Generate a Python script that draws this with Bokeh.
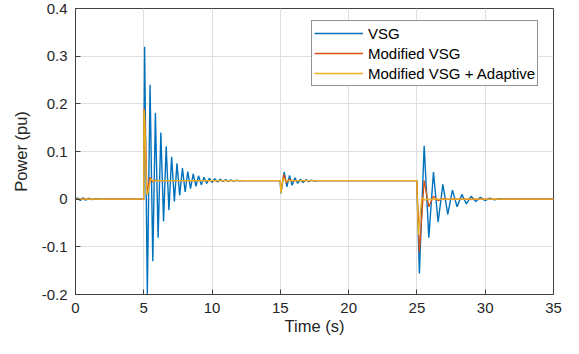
from bokeh.plotting import figure
from bokeh.models import FixedTicker, Legend, LegendItem
from bokeh.embed import file_html
from bokeh.resources import INLINE

# ---- data ----
vsg_t = [0.0, 0.15, 0.35, 0.55, 0.75, 0.95, 1.2, 1.5, 2.0, 4.99,
         5.06, 5.26, 5.46, 5.66, 5.85, 6.05, 6.25, 6.45, 6.64, 6.84,
         7.04, 7.24, 7.43, 7.63, 7.83, 8.03, 8.22, 8.42, 8.62, 8.82,
         9.01, 9.21, 9.41, 9.61, 9.80, 10.00, 10.20, 10.40, 10.59, 10.79,
         10.99, 11.19, 11.38, 11.58, 11.80, 12.00, 12.30,
         14.99, 15.04, 15.28, 15.48, 15.67, 15.86, 16.07, 16.27, 16.47, 16.67,
         16.87, 17.07, 17.27, 17.50, 17.80,
         24.99, 25.18, 25.53, 25.87, 26.21, 26.55, 26.90, 27.26, 27.60, 27.94,
         28.29, 28.62, 28.97, 29.31, 29.65, 29.99, 30.33, 30.67, 31.00, 31.40, 35.0]
vsg_p = [0.0, 0.003, -0.003, 0.003, -0.002, 0.002, -0.001, 0.001, 0.0, 0.0,
         0.320, -0.199, 0.240, -0.130, 0.181, -0.081, 0.140, -0.047, 0.111, -0.023,
         0.089, -0.005, 0.075, 0.008, 0.065, 0.015, 0.058, 0.022, 0.053, 0.027,
         0.049, 0.030, 0.046, 0.033, 0.044, 0.035, 0.043, 0.036, 0.042, 0.037,
         0.041, 0.0375, 0.0405, 0.038, 0.040, 0.0385, 0.039,
         0.039, 0.012, 0.057, 0.026, 0.050, 0.029, 0.045, 0.033, 0.042, 0.035,
         0.041, 0.037, 0.040, 0.038, 0.039,
         0.039, -0.156, 0.112, -0.081, 0.057, -0.048, 0.031, -0.032, 0.019, -0.016,
         0.010, -0.010, 0.006, -0.005, 0.004, -0.003, 0.002, -0.0015, 0.001, 0.0, 0.0]

mod_t = [0.0, 4.99, 5.03, 5.10, 5.24, 5.45, 5.65, 5.85, 6.05,
         14.99, 15.04, 15.24, 15.45, 15.65, 15.85, 16.10,
         24.99, 25.18, 25.53, 25.87, 26.21, 26.55, 26.90, 27.20, 35.0]
mod_p = [0.0, 0.0, 0.190, 0.150, 0.012, 0.046, 0.036, 0.040, 0.039,
         0.039, 0.014, 0.052, 0.034, 0.042, 0.038, 0.039,
         0.039, -0.112, 0.039, -0.016, 0.006, -0.003, 0.001, 0.0, 0.0]

adp_t = [0.0, 4.99, 5.02, 5.06, 5.22, 5.30, 5.50, 5.70, 5.90,
         14.99, 15.04, 15.20, 15.40, 15.60,
         24.99, 25.10, 25.35, 25.60, 25.80, 35.0]
adp_p = [0.0, 0.0, 0.188, 0.170, 0.010, 0.012, 0.043, 0.038, 0.039,
         0.039, 0.013, 0.044, 0.038, 0.039,
         0.039, -0.075, 0.003, -0.002, 0.0, 0.0]

series_names = ["VSG", "Modified VSG", "Modified VSG + Adaptive"]
series_colors = ["#0072BD", "#D95319", "#EDB120"]

x_ticks = [0, 5, 10, 15, 20, 25, 30, 35]
x_tick_labels = ["0", "5", "10", "15", "20", "25", "30", "35"]
y_ticks = [-0.2, -0.1, 0.0, 0.1, 0.2, 0.3, 0.4]
y_tick_labels = ["-0.2", "-0.1", "0", "0.1", "0.2", "0.3", "0.4"]

FONT = "Liberation Sans"
TXT = "#262626"
AX = "#404040"

p = figure(width=563, height=338, x_range=(0, 35), y_range=(-0.2, 0.4),
           output_backend="svg", toolbar_location=None,
           min_border_left=75, min_border_right=10, min_border_top=8,
           min_border_bottom=44)
p.background_fill_color = "white"
p.border_fill_color = "white"
p.outline_line_color = AX
p.outline_line_width = 1

r1 = p.line(vsg_t, vsg_p, line_color=series_colors[0], line_width=1.4)
r2 = p.line(mod_t, mod_p, line_color=series_colors[1], line_width=1.3)
r3 = p.line(adp_t, adp_p, line_color=series_colors[2], line_width=1.3)

xa = p.xaxis[0]
ya = p.yaxis[0]
xa.ticker = FixedTicker(ticks=x_ticks)
ya.ticker = FixedTicker(ticks=y_ticks)
xa.major_label_overrides = dict(zip(x_ticks, x_tick_labels))
ya.major_label_overrides = dict(zip(y_ticks, y_tick_labels))
xa.axis_label = "Time (s)"
ya.axis_label = "Power (pu)"
for ax in (xa, ya):
    ax.major_tick_in = 5
    ax.major_tick_out = 0
    ax.minor_tick_line_color = None
    ax.axis_line_color = AX
    ax.major_tick_line_color = AX
    ax.major_label_text_font = FONT
    ax.major_label_text_font_size = "15px"
    ax.major_label_text_color = TXT
    ax.axis_label_text_font = FONT
    ax.axis_label_text_font_size = "16.5px"
    ax.axis_label_text_font_style = "normal"
    ax.axis_label_text_color = TXT
xa.major_label_standoff = 8
xa.axis_label_standoff = 1
ya.major_label_standoff = 8
ya.axis_label_standoff = 9

p.xgrid.ticker = FixedTicker(ticks=x_ticks)
p.ygrid.ticker = FixedTicker(ticks=y_ticks)
p.grid.grid_line_color = "#dfdfdf"
p.grid.grid_line_width = 1

legend = Legend(items=[LegendItem(label=series_names[0], renderers=[r1]),
                       LegendItem(label=series_names[1], renderers=[r2]),
                       LegendItem(label=series_names[2], renderers=[r3])],
                location=(236, 208))
legend.label_text_font = FONT
legend.label_text_font_size = "15px"
legend.label_text_color = "black"
legend.border_line_color = "#262626"
legend.border_line_width = 1
legend.background_fill_alpha = 1.0
legend.padding = 2
legend.margin = 0
legend.spacing = 0
legend.glyph_width = 49
legend.glyph_height = 20
legend.label_height = 20
legend.label_standoff = 5
p.add_layout(legend, "center")

open("out.html", "w").write(file_html(p, INLINE))
